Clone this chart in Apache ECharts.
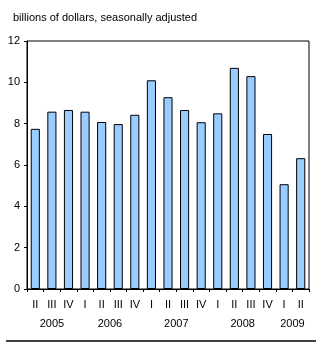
<!DOCTYPE html>
<html>
<head>
<meta charset="utf-8">
<script src="https://cdn.jsdelivr.net/npm/echarts@6/dist/echarts.min.js"></script>
<style>
html, body { margin: 0; padding: 0; background: #fff; }
#chart { width: 321px; height: 347px; }
</style>
</head>
<body>
<div id="chart"></div>
<script>
// quarters, 2005 Q2 to 2009 Q2
var quarters = ['II', 'III', 'IV', 'I', 'II', 'III', 'IV', 'I', 'II', 'III', 'IV', 'I', 'II', 'III', 'IV', 'I', 'II'];
var values = [7.75, 8.58, 8.66, 8.58, 8.08, 7.98, 8.43, 10.1, 9.28, 8.66, 8.07, 8.5, 10.7, 10.3, 7.5, 5.07, 6.33];
// year labels and their position on the quarter scale (0..17)
var years = ['2005', '2006', '2007', '2008', '2009'];
var yearPos = [1.5, 5, 9, 13, 16];
var yTicks = [0, 2, 4, 6, 8, 10, 12];

(function(){
	var chart = echarts.init(document.getElementById("chart"));
	var font = 'Liberation Sans, Arial, sans-serif';

	option = {
    animation: false,
    textStyle: { fontFamily: font },
    grid: {
        left: 27,
        right: 12,
        top: 41,
        bottom: 58,
        show: true,
        borderColor: '#000',
        borderWidth: 1
    },
    title: {
        text: 'billions of dollars, seasonally adjusted',
        left: 8,
        top: 7,
        textStyle: { fontSize: 11, fontWeight: 'normal', color: '#000', fontFamily: font }
    },
    graphic: [
        { type: 'line', shape: { x1: 6, y1: 341, x2: 316, y2: 341 }, style: { stroke: '#000', lineWidth: 1.5 } }
    ],
    xAxis: [
        {
            type: 'category',
            data: quarters,
            axisLine: { lineStyle: { color: '#000', width: 1 } },
            axisTick: { show: true, length: 3, lineStyle: { color: '#000' } },
            axisLabel: { interval: 0, color: '#000', fontSize: 11, margin: 10, fontFamily: font }
        },
        {
            type: 'value',
            position: 'bottom',
            min: 0,
            max: 17,
            interval: 0.5,
            axisLine: { show: false },
            axisTick: { show: false },
            splitLine: { show: false },
            axisLabel: {
                color: '#000',
                fontSize: 11,
                margin: 29,
                fontFamily: font,
                showMinLabel: true,
                showMaxLabel: true,
                formatter: function (v) {
                    for (var i = 0; i < yearPos.length; i++) {
                        if (Math.abs(v - yearPos[i]) < 0.01) return years[i];
                    }
                    return '';
                }
            }
        }
    ],
    yAxis: {
        type: 'value',
        min: yTicks[0],
        max: yTicks[yTicks.length - 1],
        interval: 2,
        splitLine: { show: false },
        axisLine: { show: true, lineStyle: { color: '#000' } },
        axisTick: { show: true, length: 3, lineStyle: { color: '#000' } },
        axisLabel: { color: '#000', fontSize: 11, margin: 7, fontFamily: font }
    },
    series: [
        {
            type: 'bar',
            xAxisIndex: 0,
            barWidth: '55%',
            data: values,
            itemStyle: { color: '#99ccff', borderColor: '#000', borderWidth: 1 }
        }
    ]
};

	chart.setOption(option);
})();
</script>
</body>
</html>
